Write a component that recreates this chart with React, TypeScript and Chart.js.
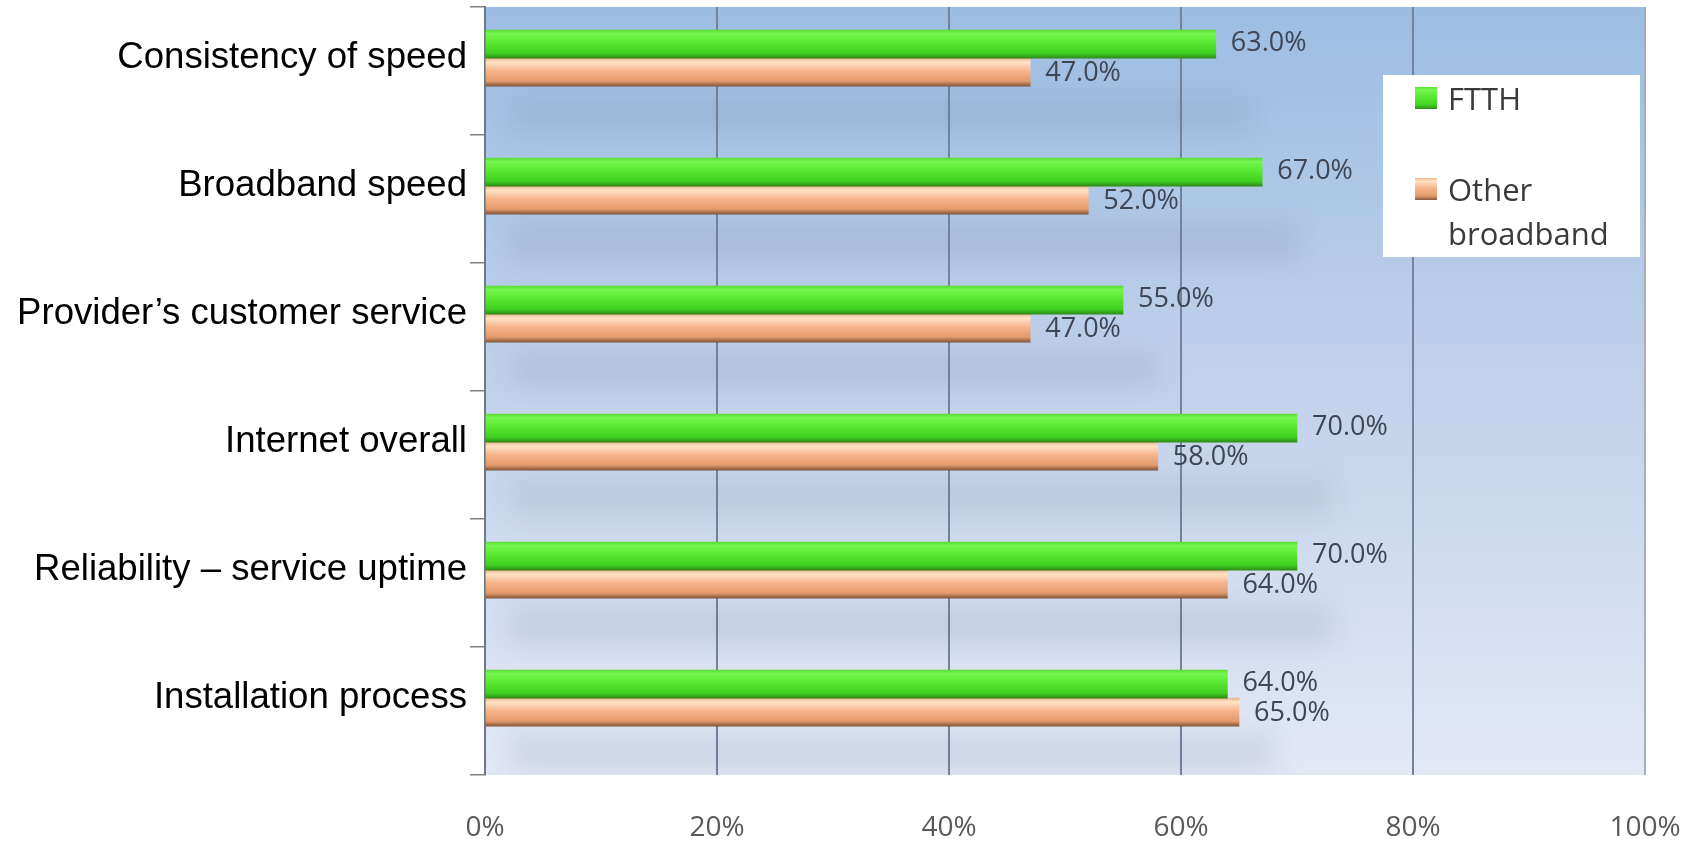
import React, { useEffect, useRef } from "react";
import { Chart, registerables } from "chart.js";

Chart.register(...registerables);

// ---- data ----
const categories: string[] = [
  "Consistency of speed",
  "Broadband speed",
  "Provider’s customer service",
  "Internet overall",
  "Reliability – service uptime",
  "Installation process",
];
const seriesNames: string[] = ["FTTH", "Other broadband"];
const ftthValues: number[] = [63, 67, 55, 70, 70, 64];
const otherValues: number[] = [47, 52, 47, 58, 64, 65];
const xTicks: number[] = [0, 20, 40, 60, 80, 100];

// ---- layout / style constants ----
const W = 1693;
const H = 841;
const BAR = 28;
const Y_MIN = -0.4;
const Y_MAX = 5.6;

const greenStops: [number, string][] = [
  [0, "#5ade36"],
  [0.12, "#76f550"],
  [0.5, "#55e62e"],
  [0.82, "#42d022"],
  [1, "#2c8c16"],
];
const orangeStops: [number, string][] = [
  [0, "#eab690"],
  [0.14, "#ffe4c6"],
  [0.45, "#f6b48d"],
  [0.82, "#e39a6c"],
  [1, "#82563a"],
];

const isCenter = (v: number) => Math.abs(v - Math.round(v)) < 1e-6;

const barFill = (stops: [number, string][]) => (ctx: any) => {
  const chart = ctx.chart;
  const y = chart.scales && chart.scales.y;
  if (!y || ctx.type !== "data") return stops[2][1];
  const center = y.getPixelForValue(ctx.dataIndex);
  if (!isFinite(center)) return stops[2][1];
  const top = ctx.datasetIndex === 0 ? center - BAR : center;
  const g = chart.ctx.createLinearGradient(0, top, 0, top + BAR);
  stops.forEach(([o, c]) => g.addColorStop(o, c));
  return g;
};

const backgroundPlugin = {
  id: "plotBackground",
  beforeDraw(chart: any) {
    const { ctx, chartArea: a } = chart;
    ctx.save();
    const g = ctx.createLinearGradient(0, a.top, 0, a.bottom);
    g.addColorStop(0, "#9cbde3");
    g.addColorStop(0.5, "#c2d2eb");
    g.addColorStop(1, "#e3e8f5");
    ctx.fillStyle = g;
    ctx.fillRect(a.left, a.top, a.right - a.left, a.bottom - a.top);
    ctx.restore();
  },
};

const shadowPlugin = {
  id: "barShadows",
  beforeDatasetsDraw(chart: any) {
    const { ctx, chartArea: a } = chart;
    const m0 = chart.getDatasetMeta(0);
    const m1 = chart.getDatasetMeta(1);
    ctx.save();
    ctx.beginPath();
    ctx.rect(a.left, a.top, a.right - a.left, a.bottom - a.top);
    ctx.clip();
    ctx.filter = "blur(14px)";
    ctx.fillStyle = "rgba(90,100,125,0.15)";
    m0.data.forEach((el: any, i: number) => {
      const el1 = m1.data[i];
      const maxX = Math.max(el.x, el1.x);
      const bottom = el1.y + BAR / 2;
      ctx.fillRect(a.left + 25, bottom + 10, maxX - a.left + 10, 34);
    });
    ctx.restore();
  },
};

const valueLabelPlugin = {
  id: "valueLabels",
  afterDatasetsDraw(chart: any) {
    const { ctx } = chart;
    ctx.save();
    ctx.font = '27px "Open Sans"';
    ctx.fillStyle = "#3e4554";
    ctx.textAlign = "left";
    ctx.textBaseline = "middle";
    chart.data.datasets.forEach((ds: any, di: number) => {
      const meta = chart.getDatasetMeta(di);
      meta.data.forEach((el: any, i: number) => {
        const v = ds.data[i].x;
        ctx.fillText(v.toFixed(1) + "%", el.x + 15, el.y + (di === 0 ? -1 : 1));
      });
    });
    ctx.restore();
  },
};

const legendPlugin = {
  id: "boxLegend",
  afterDraw(chart: any) {
    const { ctx, chartArea: a } = chart;
    const left = a.right - 262;
    const top = a.top + 68;
    const bw = 257;
    const bh = 182;
    ctx.save();
    ctx.fillStyle = "#ffffff";
    ctx.fillRect(left, top, bw, bh);
    ctx.font = '31px "Open Sans"';
    ctx.textAlign = "left";
    ctx.textBaseline = "alphabetic";
    const textX = left + 65;
    const maxW = bw - 75;
    const itemTops = [top + 12, top + 103];
    chart.data.datasets.forEach((ds: any, di: number) => {
      const sq = itemTops[di];
      const stops = di === 0 ? greenStops : orangeStops;
      const g = ctx.createLinearGradient(0, sq, 0, sq + 22);
      stops.forEach(([o, c]) => g.addColorStop(o, c));
      ctx.fillStyle = g;
      ctx.fillRect(left + 32, sq, 22, 22);
      ctx.fillStyle = "#3a3a3a";
      const words = String(ds.label).split(" ");
      const lines: string[] = [];
      let cur = "";
      words.forEach((w) => {
        const t = cur ? cur + " " + w : w;
        if (cur && ctx.measureText(t).width > maxW) {
          lines.push(cur);
          cur = w;
        } else cur = t;
      });
      if (cur) lines.push(cur);
      lines.forEach((ln, li) => {
        ctx.fillText(ln, textX, sq + 23 + li * 44);
      });
    });
    ctx.restore();
  },
};

export default function App() {
  const ref = useRef<HTMLCanvasElement | null>(null);

  useEffect(() => {
    document.body.style.margin = "0";
    const canvas = ref.current;
    if (!canvas) return;
    const chart = new Chart(canvas, {
      type: "bar",
      data: {
        datasets: [
          {
            label: seriesNames[0],
            data: ftthValues.map((v, i) => ({ x: v, y: i })),
            backgroundColor: barFill(greenStops) as any,
            borderWidth: 0,
            barThickness: BAR,
          },
          {
            label: seriesNames[1],
            data: otherValues.map((v, i) => ({ x: v, y: i })),
            backgroundColor: barFill(orangeStops) as any,
            borderWidth: 0,
            barThickness: BAR,
          },
        ],
      },
      options: {
        indexAxis: "y",
        animation: false,
        responsive: false,
        events: [],
        layout: { padding: { left: 0, right: 48, top: 7, bottom: 0 } },
        plugins: {
          legend: { display: false },
          tooltip: { enabled: false },
        },
        scales: {
          x: {
            type: "linear",
            position: "bottom",
            min: 0,
            max: 100,
            afterBuildTicks: (scale: any) => {
              scale.ticks = xTicks.map((v) => ({ value: v }));
            },
            afterFit: (scale: any) => {
              scale.height = 66;
              scale.paddingLeft = 0;
              scale.paddingRight = 0;
            },
            ticks: {
              callback: (v: any) => v + "%",
              font: { family: "Open Sans", size: 28 },
              color: "#595959",
              padding: 36,
              maxRotation: 0,
            },
            grid: {
              color: (c: any) => (c.tick && c.tick.value === 100 ? "#a7afbf" : "#74839b"),
              lineWidth: 2,
              drawTicks: false,
            },
            border: { display: false },
          },
          y: {
            type: "linear",
            reverse: true,
            min: Y_MIN,
            max: Y_MAX,
            offset: false,
            afterBuildTicks: (scale: any) => {
              const t: { value: number }[] = [];
              for (let k = 0; k <= 6; k++) {
                t.push({ value: Y_MIN + k });
                if (k < 6) t.push({ value: k });
              }
              t.sort((p, q) => p.value - q.value);
              scale.ticks = t;
            },
            afterFit: (scale: any) => {
              scale.width = 485;
              scale.paddingTop = 0;
              scale.paddingBottom = 0;
            },
            ticks: {
              autoSkip: false,
              callback: (v: any) => {
                const n = Number(v);
                return isCenter(n) ? categories[Math.round(n)] : "";
              },
              font: { family: "Liberation Sans", size: 36.6 },
              color: "#000000",
              padding: 3,
            },
            grid: {
              offset: false,
              drawOnChartArea: false,
              drawTicks: true,
              tickLength: 15,
              lineWidth: 1.5,
              color: (c: any) => (c.tick && isCenter(c.tick.value) ? "rgba(0,0,0,0)" : "#808080"),
            },
            border: { display: true, color: "#6f7888", width: 2 },
          },
        },
      } as any,
      plugins: [backgroundPlugin, shadowPlugin, valueLabelPlugin, legendPlugin],
    });
    return () => chart.destroy();
  }, []);

  return (
    <div style={{ position: "absolute", left: 0, top: 0, width: W, height: H, background: "#ffffff" }}>
      <canvas ref={ref} width={W} height={H} />
    </div>
  );
}
